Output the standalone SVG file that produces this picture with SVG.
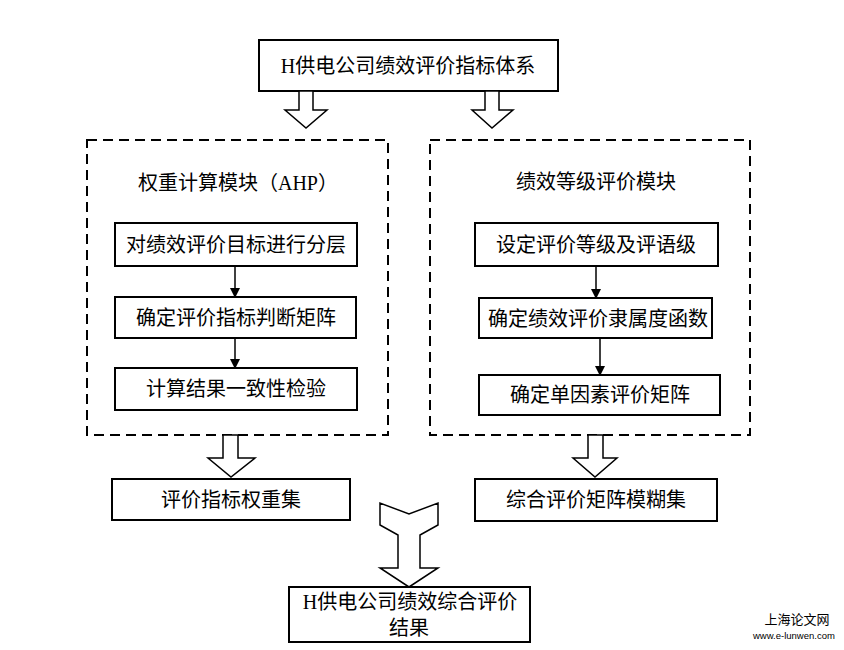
<svg xmlns="http://www.w3.org/2000/svg" width="844" height="650" viewBox="0 0 844 650">
<style>
.box{fill:#fff;stroke:#000;stroke-width:2}
.dash{fill:none;stroke:#000;stroke-width:2;stroke-dasharray:10 6}
.t{font-family:"Liberation Serif","Noto Sans CJK SC",serif;font-size:20px;fill:#000;text-anchor:middle;dominant-baseline:central}
.hollow{fill:#fff;stroke:#000;stroke-width:1.5;stroke-linejoin:miter}
.line{stroke:#000;stroke-width:1.5;fill:none}
.wm{font-family:"Noto Sans CJK SC","Liberation Sans",sans-serif;fill:#000}
</style>
<defs>
<marker id="ah" markerWidth="10" markerHeight="10" refX="9" refY="5" orient="auto" markerUnits="userSpaceOnUse">
<path d="M0,0 L10,5 L0,10 z" fill="#000"/>
</marker>
</defs>
<rect width="844" height="650" fill="#fff"/>

<g id="top">
<rect class="box" x="259" y="40" width="299" height="51"/>
<text class="t" x="408" y="66">H供电公司绩效评价指标体系</text>
</g>

<g id="leftModule">
<rect class="dash" x="87" y="140" width="301" height="295"/>
<text class="t" x="238" y="183">权重计算模块（AHP）</text>
</g>
<g id="rightModule">
<rect class="dash" x="430" y="140" width="320" height="295"/>
<text class="t" x="596" y="182">绩效等级评价模块</text>
</g>

<g id="l1"><rect class="box" x="115" y="223" width="242" height="43"/><text class="t" x="236" y="245">对绩效评价目标进行分层</text></g>
<g id="l2"><rect class="box" x="115" y="297" width="241" height="41"/><text class="t" x="236" y="318">确定评价指标判断矩阵</text></g>
<g id="l3"><rect class="box" x="115" y="368" width="242" height="42"/><text class="t" x="236" y="389">计算结果一致性检验</text></g>

<g id="r1"><rect class="box" x="475" y="223" width="243" height="43"/><text class="t" x="596" y="245">设定评价等级及评语级</text></g>
<g id="r2"><rect class="box" x="479" y="298" width="233" height="40"/><text class="t" x="598" y="319">确定绩效评价隶属度函数</text></g>
<g id="r3"><rect class="box" x="479" y="375" width="241" height="40"/><text class="t" x="600" y="395">确定单因素评价矩阵</text></g>

<g id="lout"><rect class="box" x="112" y="479" width="238" height="41"/><text class="t" x="231" y="500">评价指标权重集</text></g>
<g id="rout"><rect class="box" x="475" y="479" width="242" height="42"/><text class="t" x="596" y="500">综合评价矩阵模糊集</text></g>

<g id="final">
<rect class="box" x="289" y="587" width="241" height="55"/>
<text class="t" x="410" y="602">H供电公司绩效综合评价</text>
<text class="t" x="409" y="628">结果</text>
</g>

<g id="connectors">
<path class="hollow" d="M299,91 L313,91 L313,110 L327,110 L306,128 L285,110 L299,110 Z"/>
<path class="hollow" d="M485,91 L499,91 L499,110 L513,110 L492,128 L472,110 L485,110 Z"/>
<path class="hollow" d="M223,435 L238,435 L238,458 L255,458 L231,477 L208,458 L223,458 Z"/>
<path class="hollow" d="M588,435 L603,435 L603,458 L617,458 L595,477 L573,458 L588,458 Z"/>
<path class="hollow" d="M380,503 L380,525 L398,535 L398,568 L380,568 L409,587 L438,568 L420,568 L420,535 L438,525 L438,503 L409,514 Z"/>
<line class="line" x1="235" y1="266" x2="235" y2="297" marker-end="url(#ah)"/>
<line class="line" x1="235" y1="338" x2="235" y2="368" marker-end="url(#ah)"/>
<line class="line" x1="596" y1="266" x2="596" y2="298" marker-end="url(#ah)"/>
<line class="line" x1="600" y1="338" x2="600" y2="375" marker-end="url(#ah)"/>
</g>

<text class="wm" x="797" y="618" font-size="13" text-anchor="middle" dominant-baseline="central">上海论文网</text>
<text x="753" y="639" font-size="9.5" font-family="Liberation Sans,sans-serif" fill="#000">www.e-lunwen.com</text>
</svg>
